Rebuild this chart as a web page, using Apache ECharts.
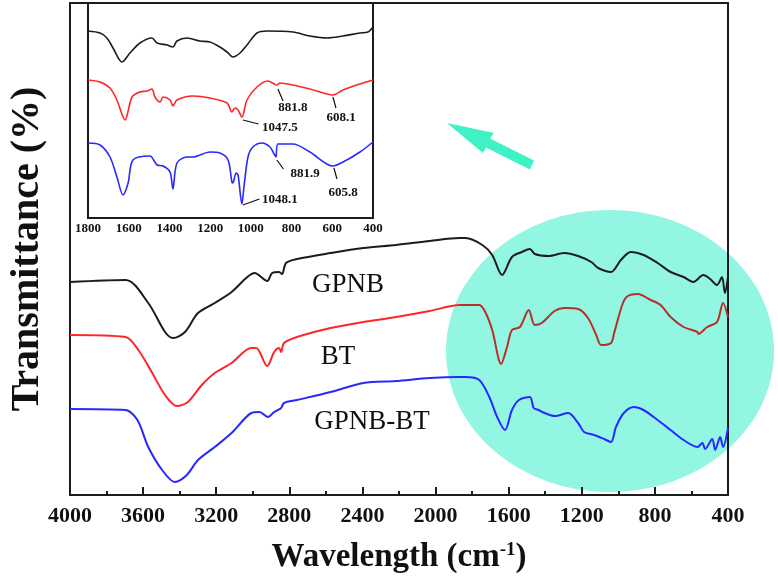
<!DOCTYPE html>
<html>
<head>
<meta charset="utf-8">
<script src="https://cdn.jsdelivr.net/npm/echarts@6/dist/echarts.min.js"></script>
<style>html,body{margin:0;padding:0;background:#fff}#c{width:778px;height:585px}</style>
</head>
<body>
<div id="c"></div>
<script>
// ---------- main spectra (wavenumber, transmittance a.u.) ----------
const gpnbWn = [4000,3696,3572,3480,3436,3371,3300,3208,3116,3030,2990,2921,2894,2856,2840,2818,2758,2574,2395,2216,2032,1869,1836,1744,1690,1636,1582,1528,1484,1457,1382,1295,1220,1148,1110,1040,986,932,862,785,714,643,590,535,498,460,433,417,400];
const gpnbT  = [213,215,192,163,157,163,182,192,203,218,222,214,222,223,221,232,236,242,247,250,254,257,257,250,240,220,238,243,246,241,239,242,239,233,227,223,235,243,240,232,223,218,213,220,216,210,218,202,218];

const btWn = [4000,3696,3626,3550,3480,3415,3355,3279,3208,3116,3008,2981,2921,2883,2856,2845,2829,2758,2574,2395,2216,2032,1869,1761,1728,1690,1641,1609,1582,1538,1490,1457,1419,1349,1295,1220,1166,1121,1094,1040,1023,975,948,894,823,769,714,643,567,562,514,460,427,400];
const btT  = [160,158,145,122,100,89,93,110,122,132,147,147,129,143,147,143,152,158,167,173,178,184,190,190,183,165,131,148,165,168,185,170,172,184,187,186,177,160,150,152,162,192,199,201,195,190,178,168,163,161,168,173,192,178];

const gbtWn = [4000,3696,3631,3572,3496,3426,3361,3300,3208,3116,3008,2964,2916,2883,2845,2829,2758,2574,2395,2216,2032,1869,1836,1761,1706,1663,1620,1582,1544,1484,1463,1436,1403,1349,1274,1220,1187,1133,1078,1040,1013,970,915,862,785,714,643,567,540,525,486,470,443,427,400];
const gbtT  = [86,85,75,48,25,13,20,35,48,62,82,83,78,83,87,92,95,103,112,114,117,118,118,115,98,78,65,85,95,98,87,85,82,79,82,72,63,60,56,53,68,82,88,85,75,65,55,48,52,46,56,45,58,48,67];

// ---------- inset spectra (1800-400 cm-1) ----------
const inGpnbWn = [1800,1741,1707,1677,1633,1594,1545,1486,1461,1412,1383,1363,1314,1250,1201,1152,1117,1088,1053,1019,970,921,793,710,626,547,464,425,400];
const inGpnbT  = [187,185,180,170,156,165,175,180,175,173,171,177,180,177,176,171,166,161,165,173,185,187,186,182,180,182,185,186,191];

const inBtWn = [1800,1741,1692,1658,1618,1584,1545,1510,1486,1471,1446,1431,1397,1383,1363,1284,1201,1117,1093,1078,1063,1044,1019,970,916,872,857,793,710,597,547,464,400];
const inBtT  = [138,136,130,118,98,121,126,127,129,121,116,121,118,112,118,122,120,115,106,110,108,101,118,131,137,133,135,133,129,123,128,134,138];

const inGbtWn = [1800,1741,1692,1658,1628,1603,1579,1496,1461,1431,1397,1383,1363,1314,1284,1201,1152,1112,1093,1088,1073,1063,1044,1034,1014,990,946,906,886,877,867,793,710,597,547,464,400];
const inGbtT  = [75,73,61,41,23,35,58,62,53,52,46,29,55,61,61,66,65,58,36,35,45,43,14,31,61,71,75,71,64,61,74,74,66,52,56,66,76];

// ---------- peak annotations in inset (text, arrow start, arrow end, label position) ----------
const peakText  = ['881.8','608.1','1047.5','881.9','605.8','1048.1'];
const peakFrom  = [[867,129],[597,121],[1039,98],[872,58],[592,50],[1039,13]];
const peakTo    = [[842,117],[582,110],[962,94],[840,49],[577,39],[958,19]];
const peakLabel = [[793,110],[557,100],[857,90],[734,44],[547,25],[857,18]];

const seriesNames = ['GPNB','BT','GPNB-BT'];
const mainTicks = {min:400, max:4000, interval:400};
const insetTicks = {min:400, max:1800, interval:200};

const zip = (a,b)=>a.map((v,i)=>[v,b[i]]);
const SERIF = '"Liberation Serif","Times New Roman",serif';
const C_BLACK = '#1c1c1c', C_RED = '#ff2626', C_BLUE = '#2828ff', C_DARKRED = '#b4302c';

// BT line turns darker where it crosses the highlight ellipse
const btColor = {type:'linear', x:0, y:0, x2:778, y2:0, global:true,
  colorStops:[{offset:0,color:C_RED},{offset:458/778,color:C_RED},{offset:462/778,color:C_DARKRED},{offset:1,color:C_DARKRED}]};

const chart = echarts.init(document.getElementById('c'), null, {renderer:'canvas'});

const option = {
  backgroundColor:'#fff',
  animation:false,
  grid:[
    {left:64, right:50, top:3, bottom:90, show:true, borderColor:C_BLACK, borderWidth:2, z:1},
    {left:88, top:3, width:285, height:215, show:true, borderColor:C_BLACK, borderWidth:2, backgroundColor:'#fff', z:5}
  ],
  xAxis:[
    {type:'value', gridIndex:0, inverse:true, min:mainTicks.min, max:mainTicks.max, interval:mainTicks.interval,
     axisLine:{show:true, lineStyle:{color:C_BLACK, width:2}},
     axisTick:{show:true, inside:true, length:8, lineStyle:{color:C_BLACK, width:2}},
     minorTick:{show:true, splitNumber:2, length:4, lineStyle:{color:C_BLACK, width:2}},
     splitLine:{show:false},
     axisLabel:{show:true, margin:10, fontSize:22, fontWeight:'bold', fontFamily:SERIF, color:'#111', showMinLabel:true, showMaxLabel:true, formatter:v=>String(v)},
     name:'Wavelength (cm{sup|-1})', nameLocation:'middle', nameGap:46,
     nameTextStyle:{fontSize:33, fontWeight:'bold', fontFamily:SERIF, color:'#111',
        rich:{sup:{fontSize:19, fontWeight:'bold', fontFamily:SERIF, color:'#111', verticalAlign:'top', padding:[0,0,14,0]}}}
    },
    {type:'value', gridIndex:1, inverse:true, min:insetTicks.min, max:insetTicks.max, interval:insetTicks.interval,
     axisLine:{show:true, lineStyle:{color:C_BLACK, width:2}},
     axisTick:{show:true, inside:true, length:5, lineStyle:{color:C_BLACK, width:1.5}},
     minorTick:{show:true, splitNumber:2, length:3, lineStyle:{color:C_BLACK, width:1.5}},
     splitLine:{show:false},
     axisLabel:{show:true, margin:4, fontSize:13, fontWeight:'bold', fontFamily:SERIF, color:'#111', showMinLabel:true, showMaxLabel:true, formatter:v=>String(v)}
    }
  ],
  yAxis:[
    {type:'value', gridIndex:0, min:0, max:492,
     axisLine:{show:true, lineStyle:{color:C_BLACK, width:2}}, axisTick:{show:false}, axisLabel:{show:false}, splitLine:{show:false},
     name:'Transmittance (%)', nameLocation:'middle', nameGap:22,
     nameTextStyle:{fontSize:40, fontWeight:'bold', fontFamily:SERIF, color:'#111'}
    },
    {type:'value', gridIndex:1, min:0, max:215,
     axisLine:{show:true, lineStyle:{color:C_BLACK, width:2}}, axisTick:{show:false}, axisLabel:{show:false}, splitLine:{show:false}
    }
  ],
  series:[
    {name:seriesNames[0], type:'line', xAxisIndex:0, yAxisIndex:0, data:zip(gpnbWn,gpnbT), showSymbol:false, smooth:0.3, lineStyle:{color:C_BLACK, width:2}, z:3},
    {name:seriesNames[1], type:'line', xAxisIndex:0, yAxisIndex:0, data:zip(btWn,btT), showSymbol:false, smooth:0.3, lineStyle:{color:btColor, width:2}, z:3},
    {name:seriesNames[2], type:'line', xAxisIndex:0, yAxisIndex:0, data:zip(gbtWn,gbtT), showSymbol:false, smooth:0.3, lineStyle:{color:C_BLUE, width:2}, z:3},
    {type:'line', xAxisIndex:1, yAxisIndex:1, data:zip(inGpnbWn,inGpnbT), showSymbol:false, smooth:0.3, lineStyle:{color:C_BLACK, width:1.6}, z:6},
    {type:'line', xAxisIndex:1, yAxisIndex:1, data:zip(inBtWn,inBtT), showSymbol:false, smooth:0.3, lineStyle:{color:C_RED, width:1.6}, z:6},
    {type:'line', xAxisIndex:1, yAxisIndex:1, data:zip(inGbtWn,inGbtT), showSymbol:false, smooth:0.3, lineStyle:{color:C_BLUE, width:1.6}, z:6,
     markLine:{silent:true, symbol:['none','arrow'], symbolSize:[0,7], label:{show:false},
       lineStyle:{color:'#111', width:1.2, type:'solid'},
       data: peakFrom.map((p,i)=>[{coord:p},{coord:peakTo[i]}])},
     markPoint:{silent:true, symbol:'circle', symbolSize:0,
       label:{show:true, position:'inside', formatter:'{b}', fontSize:13, fontWeight:'bold', fontFamily:SERIF, color:'#111'},
       data: peakText.map((t,i)=>({name:t, coord:peakLabel[i]}))}
    }
  ],
  graphic:{elements:[
    {type:'ellipse', z:-1, silent:true, shape:{cx:610, cy:351, rx:164, ry:141}, style:{fill:'#93f6e3'}},
    {type:'polygon', z:10, silent:true, shape:{points:[[447,123],[494,133],[490,138.5],[534,160.5],[530,169.5],[486,147.5],[483,153]]}, style:{fill:'#3ef2c6'}},
    {type:'text', z:10, silent:true, x:348, y:285, style:{text:seriesNames[0], font:'27px '+SERIF, fill:'#111', textAlign:'center', textVerticalAlign:'middle'}},
    {type:'text', z:10, silent:true, x:338, y:357, style:{text:seriesNames[1], font:'27px '+SERIF, fill:'#111', textAlign:'center', textVerticalAlign:'middle'}},
    {type:'text', z:10, silent:true, x:372, y:422, style:{text:seriesNames[2], font:'27px '+SERIF, fill:'#111', textAlign:'center', textVerticalAlign:'middle'}}
  ]}
};
chart.setOption(option);
</script>
</body>
</html>
